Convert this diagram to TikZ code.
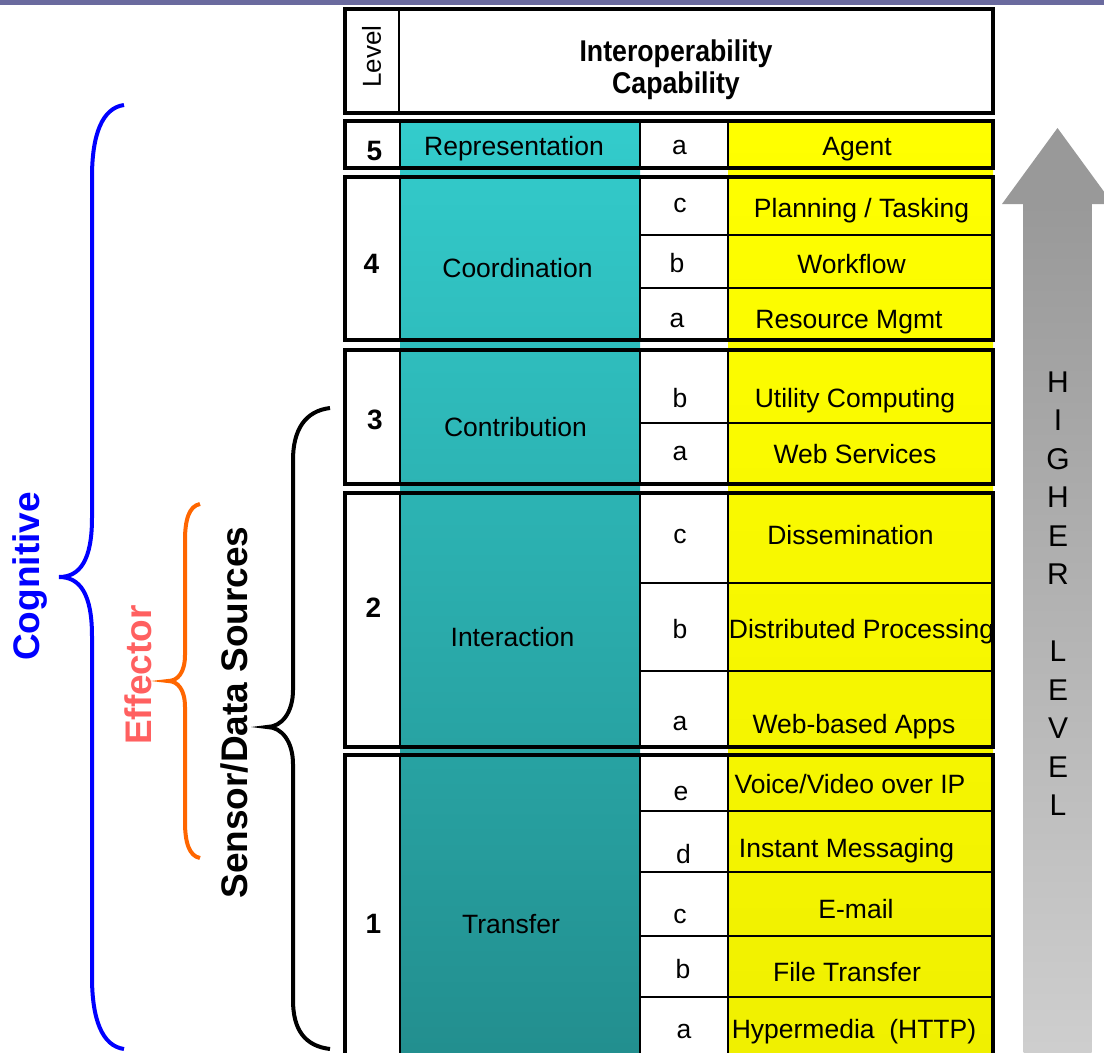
\documentclass[tikz,border=0pt]{standalone}
\usepackage{fontspec}
\setmainfont{Liberation Sans}
\definecolor{topbar}{RGB}{106,106,158}
\definecolor{tealA}{RGB}{51,204,204}
\definecolor{tealB}{RGB}{44,180,180}
\definecolor{tealC}{RGB}{34,142,142}
\definecolor{yelA}{RGB}{255,255,0}
\definecolor{yelB}{RGB}{240,240,0}
\definecolor{arrowhead}{RGB}{153,153,153}
\definecolor{arrowmid}{RGB}{175,175,175}
\definecolor{arrowlow}{RGB}{207,207,207}
\definecolor{effred}{RGB}{255,96,96}
\definecolor{effbrace}{RGB}{255,102,0}
\begin{document}
\begin{tikzpicture}[x=1pt,y=-1pt,
  cell/.style={font=\fontsize{26.5}{30}\selectfont, anchor=base, inner sep=0pt},
  num/.style={font=\fontsize{28}{32}\selectfont\bfseries, anchor=base, inner sep=0pt},
  hdr/.style={font=\fontsize{30}{34}\selectfont\bfseries, anchor=base, inner sep=0pt},
  groupbox/.style={draw=black, line width=3.4pt},
  colline/.style={draw=black, line width=2pt},
  rowline/.style={draw=black, line width=1.8pt},
  brace/.style={line width=4pt},
  side/.style={font=\fontsize{37}{40}\selectfont\bfseries, rotate=90, inner sep=0pt,
               text height=27pt, text depth=0pt, anchor=center}
]
\clip (0,0) rectangle (1104,1053);
\fill[white] (0,0) rectangle (1104,1053);
\fill[topbar] (0,0) rectangle (1104,5);

% header
\draw[groupbox, fill=white] (345,9) rectangle (993,113);
\draw[colline] (399,9) -- (399,113);
\node[font=\fontsize{26}{30}\selectfont, rotate=90, inner sep=0pt] (hlevel) at (371.5,56.5) {Level};
\node[hdr] (hcap1) at (676,61) {\scalebox{0.89}[1]{Interoperability}};
\node[hdr] (hcap2) at (676,93) {\scalebox{0.89}[1]{Capability}};

% continuous capability and service columns
\shade[top color=tealA, middle color=tealB, bottom color=tealC] (400,121) rectangle (640,1065);
\shade[top color=yelA, bottom color=yelB] (728,121) rectangle (993,1065);

% level groups: white cells, column lines, row lines, outline
\foreach \t/\b in {121/168, 177/340, 350/484, 493/747, 755/1065} {
  \fill[white] (345,\t) rectangle (400,\b);
  \fill[white] (640,\t) rectangle (728,\b);
  \draw[colline] (400,\t) -- (400,\b);
  \draw[colline] (640,\t) -- (640,\b);
  \draw[colline] (728,\t) -- (728,\b);
}
\foreach \y in {235,288,423,583,671,811,872,936,997}
  \draw[rowline] (640,\y) -- (993,\y);
\foreach \t/\b in {121/168, 177/340, 350/484, 493/747, 755/1065}
  \draw[groupbox] (345,\t) rectangle (993,\b);

% level numbers
\node[num] (n5) at (374.5,160) {5};
\node[num] (n4) at (371.5,273) {4};
\node[num] (n3) at (375,429) {3};
\node[num] (n2) at (373.5,617) {2};
\node[num] (n1) at (373.5,933) {1};

% capability names
\node[cell] (c5) at (514,155) {Representation};
\node[cell] (c4) at (517.5,277) {Coordination};
\node[cell] (c3) at (515.5,436) {Contribution};
\node[cell] (c2) at (512.5,646) {Interaction};
\node[cell] (c1) at (511,933) {Transfer};

% sub-level letters
\node[cell] (s5a) at (679.5,154) {a};
\node[cell] (s4c) at (680,212) {c};
\node[cell] (s4b) at (677,272) {b};
\node[cell] (s4a) at (677,327) {a};
\node[cell] (s3b) at (680,407) {b};
\node[cell] (s3a) at (680,460) {a};
\node[cell] (s2c) at (680,543) {c};
\node[cell] (s2b) at (680,638) {b};
\node[cell] (s2a) at (680,730) {a};
\node[cell] (s1e) at (681,800) {e};
\node[cell] (s1d) at (683.5,863) {d};
\node[cell] (s1c) at (680,923) {c};
\node[cell] (s1b) at (683,978) {b};
\node[cell] (s1a) at (684,1038) {a};

% services
\node[cell] (t5a) at (857,155) {Agent};
\node[cell] (t4c) at (861.5,217) {Planning / Tasking};
\node[cell] (t4b) at (851.5,273) {Workflow};
\node[cell] (t4a) at (849,328) {Resource Mgmt};
\node[cell] (t3b) at (855,407) {Utility Computing};
\node[cell] (t3a) at (855,463) {Web Services};
\node[cell] (t2c) at (850.5,544) {Dissemination};
\node[cell] (t2b) at (861.5,638) {Distributed Processing};
\node[cell] (t2a) at (854,733) {Web-based Apps};
\node[cell] (t1e) at (850,793) {Voice/Video over IP};
\node[cell] (t1d) at (846.5,857) {Instant Messaging};
\node[cell] (t1c) at (856,918) {E-mail};
\node[cell] (t1b) at (847,981) {File Transfer};
\node[cell] (t1a) at (854,1038) {Hypermedia\ \ (HTTP)};

% rising arrow
\shade[top color=arrowhead, middle color=arrowmid, bottom color=arrowlow] (1023.5,203) rectangle (1091.5,1065);
\fill[arrowhead] (1002,204) -- (1057.5,128) -- (1113,204) -- cycle;
\node[font=\fontsize{30}{38.5}\selectfont, align=center, inner sep=0pt] (higher) at (1058,593.5)
  {H\\I\\G\\H\\E\\R\\[38.5pt]L\\E\\V\\E\\L};

% braces
\draw[brace, blue] (124,105) .. controls (102,108) and (92,135) .. (92,177) -- (92,518)
  .. controls (92,560) and (80,577) .. (59,577)
  .. controls (80,577) and (92,594) .. (92,636) -- (92,977)
  .. controls (92,1019) and (102,1046) .. (124,1049);
\draw[brace, effbrace] (200,504) .. controls (189,506) and (185,520) .. (185,540) -- (185,655)
  .. controls (185,672) and (178,681) .. (168,681)
  .. controls (178,681) and (185,690) .. (185,707) -- (185,822)
  .. controls (185,842) and (189,856) .. (200,858);
\draw[brace, black] (330,408) .. controls (305,411) and (293,430) .. (293,460) -- (293,690)
  .. controls (293,712) and (282,727) .. (267,727)
  .. controls (282,727) and (293,742) .. (293,764) -- (293,1000)
  .. controls (293,1030) and (305,1046) .. (330,1049);

% brace labels
\node[side, text=blue] (cog) at (26,576.5) {Cognitive};
\node[side, text=effred] (eff) at (137.5,675) {Effector};
\node[side, text=black] (sen) at (234,712.5) {Sensor/Data Sources};
\end{tikzpicture}
\end{document}
